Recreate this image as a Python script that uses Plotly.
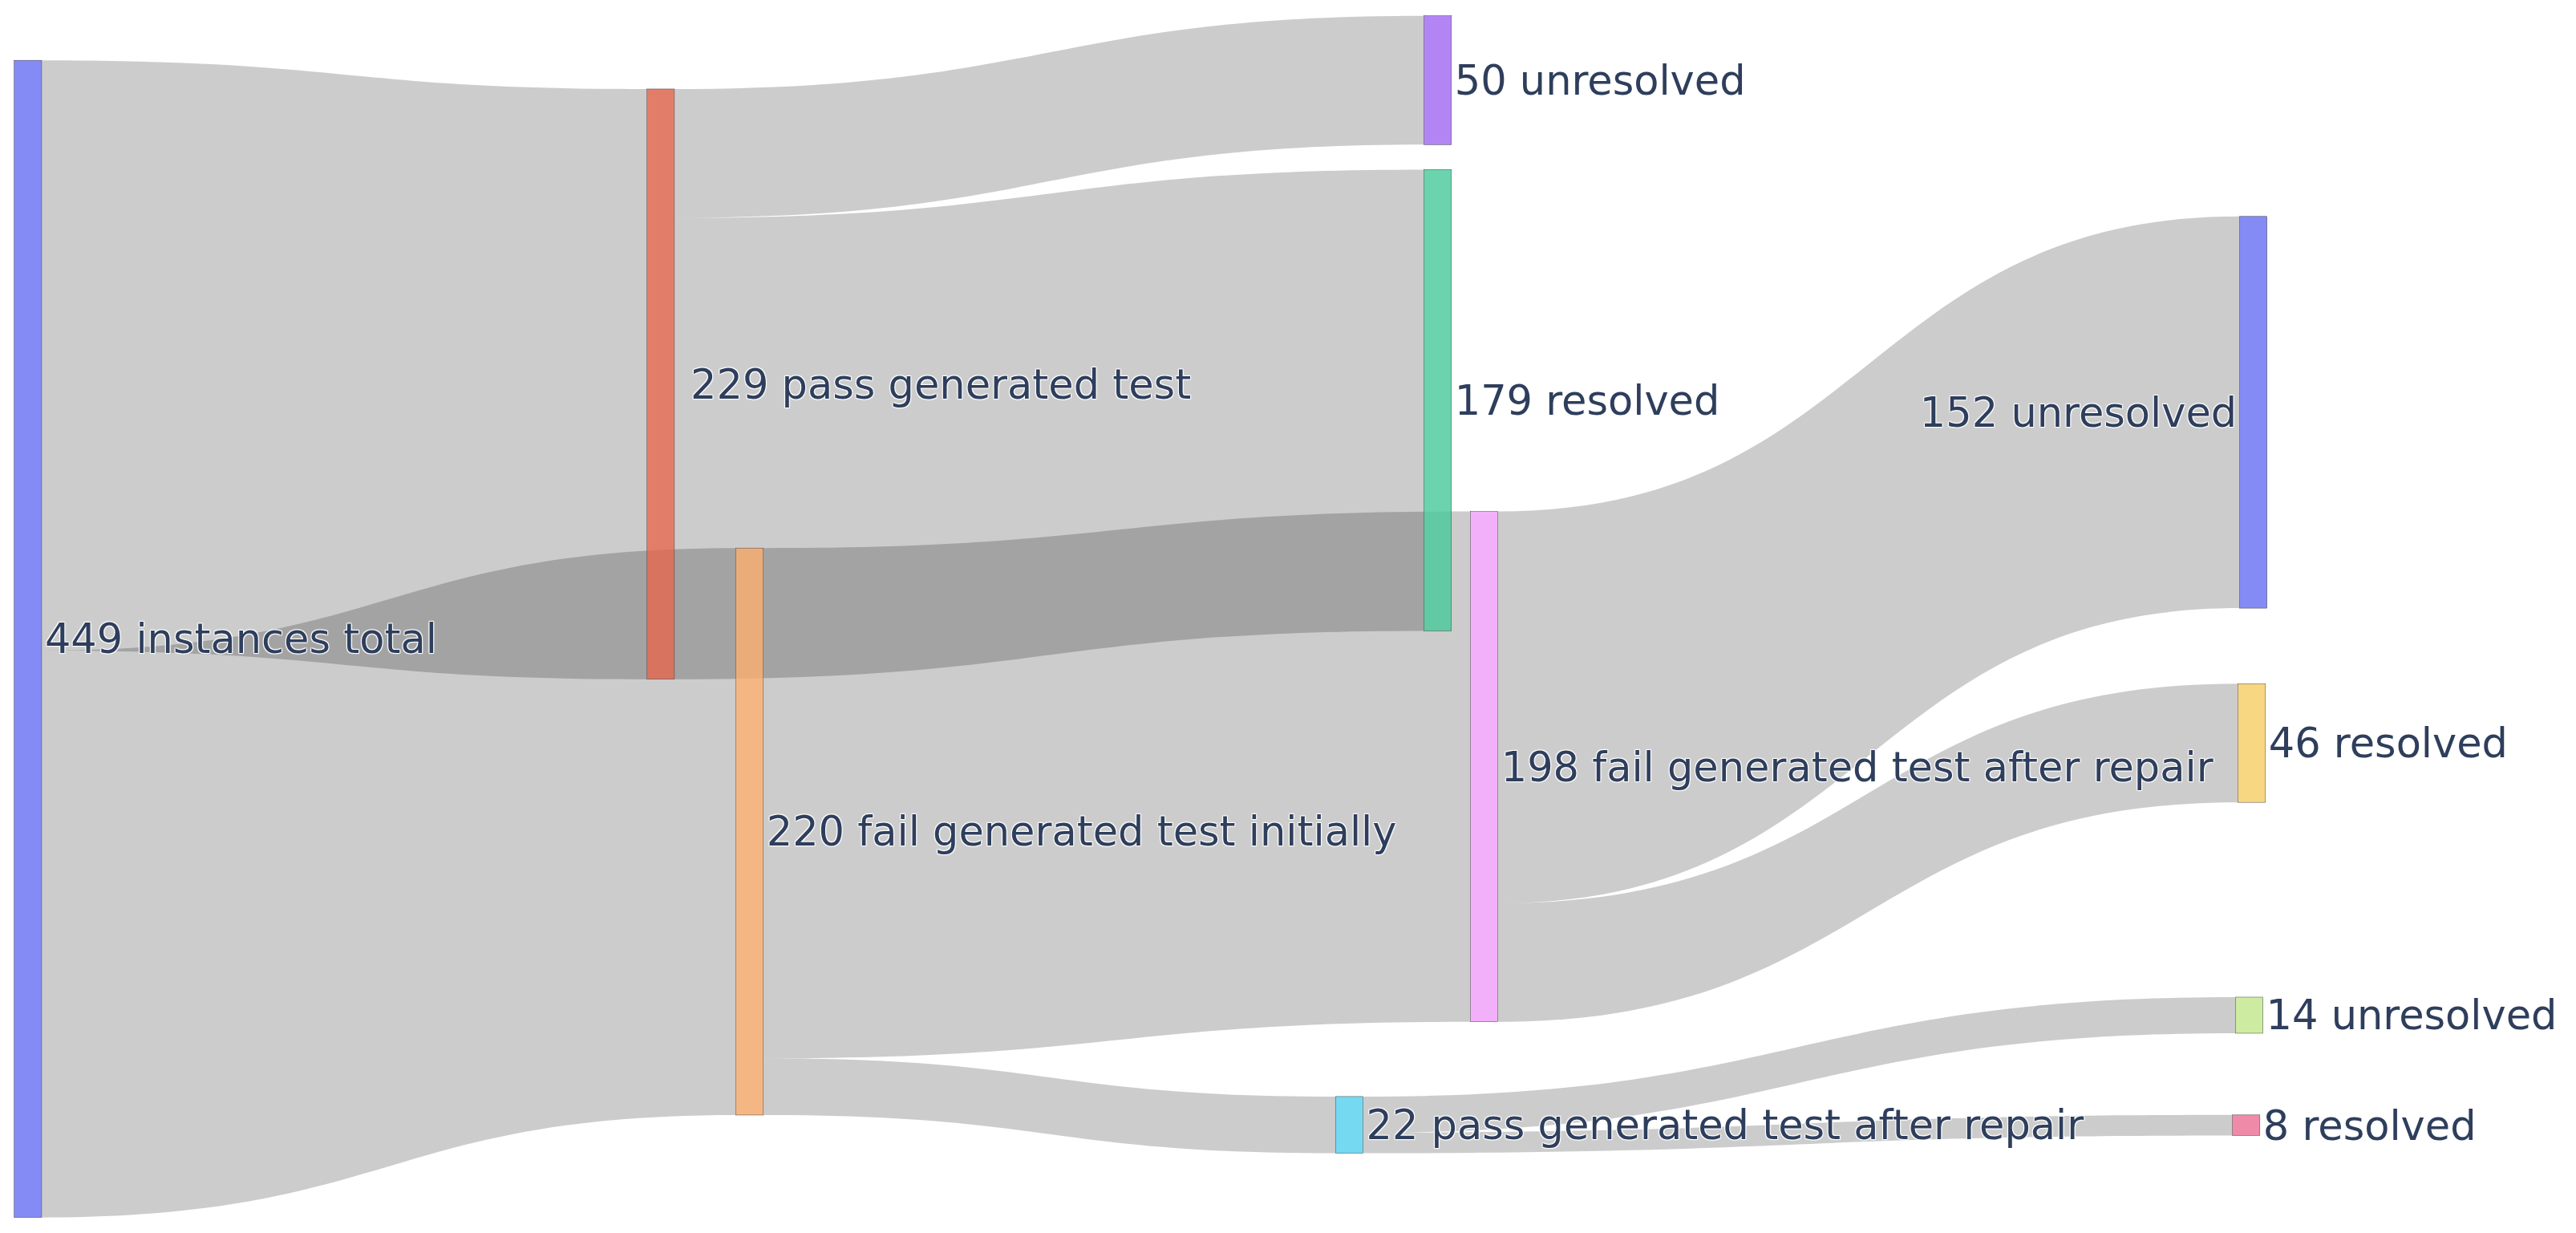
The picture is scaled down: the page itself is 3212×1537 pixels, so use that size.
import plotly.graph_objects as go

# Node labels (order chosen to follow the default colour sequence)
labels = [
    "449 instances total",
    "\u00a0229 pass generated test",
    "179 resolved",
    "50 unresolved",
    "220 fail generated test initially",
    "22 pass generated test after repair",
    "8 resolved",
    "14 unresolved",
    "198 fail generated test after repair",
    "46 resolved",
    "152 unresolved",
]

# Flows
link_source = [0, 0, 1, 1, 4, 4, 8, 8, 5, 5]
link_target = [1, 4, 2, 3, 8, 5, 10, 9, 7, 6]
link_value = [229, 220, 179, 50, 198, 22, 152, 46, 14, 8]

# Base node colours (plotly default sequence)
base_colors = [
    "#636efa", "#EF553B", "#00cc96", "#ab63fa", "#FFA15A", "#19d3f3",
    "#FF6692", "#B6E880", "#FF97FF", "#FECB52", "#636efa",
]

# Node centre positions (fractions of the plot area)
node_x = [0.00527, 0.2529, 0.5570, 0.5570, 0.2877, 0.5224, 0.8734, 0.8746, 0.5752, 0.8756, 0.8762]
node_y = [0.5186, 0.3070, 0.3204, 0.05463, 0.6786, 0.9222, 0.9225, 0.8311, 0.6247, 0.6051, 0.3304]


def _hex_to_rgb(h):
    h = h.lstrip("#")
    return [int(h[i:i + 2], 16) for i in (0, 2, 4)]


def _to_p3_values(rgb):
    """Re-express an sRGB colour in Display-P3 channel values (reference look)."""
    lin = []
    for c in rgb:
        v = c / 255.0
        lin.append(((v + 0.055) / 1.055) ** 2.4 if v > 0.04045 else v / 12.92)
    m = [[0.8224621, 0.1775380, 0.0],
         [0.0331941, 0.9668058, 0.0],
         [0.0170827, 0.0723974, 0.9105199]]
    out = []
    for i in range(3):
        x = sum(m[i][j] * lin[j] for j in range(3))
        x = min(max(x, 0.0), 1.0)
        e = 1.055 * x ** (1 / 2.4) - 0.055 if x > 0.0031308 else 12.92 * x
        out.append(e * 255.0)
    return out


def node_rgba(hexcol, alpha=0.8):
    rgb = _hex_to_rgb(hexcol)
    over_white = [alpha * c + (1 - alpha) * 255 for c in rgb]
    target = _to_p3_values(over_white)
    base = [min(max((t - (1 - alpha) * 255) / alpha, 0), 255) for t in target]
    return "rgba(%d,%d,%d,%.2f)" % (round(base[0]), round(base[1]), round(base[2]), alpha)


node_colors = [node_rgba(c) for c in base_colors]
tc = _to_p3_values(_hex_to_rgb("#2a3f5f"))
text_color = "rgb(%d,%d,%d)" % tuple(round(v) for v in tc)

fig = go.Figure(go.Sankey(
    arrangement="freeform",
    node=dict(
        label=labels,
        color=node_colors,
        x=node_x,
        y=node_y,
        pad=11.7,
        thickness=34.3,
        line=dict(color="#444", width=0.5),
    ),
    link=dict(
        source=link_source,
        target=link_target,
        value=link_value,
        color="rgba(0,0,0,0.2)",
    ),
    textfont=dict(family="DejaVu Sans", size=51, color=text_color),
))

fig.update_layout(
    width=3196,
    height=1521,
    margin=dict(l=10, r=0, t=10, b=10),
    paper_bgcolor="white",
    font=dict(family="DejaVu Sans", size=51, color=text_color),
)

fig.write_html("out.html")
